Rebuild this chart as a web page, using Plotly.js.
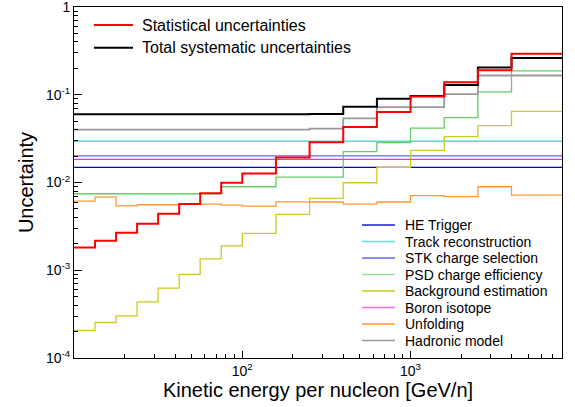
<!DOCTYPE html>
<html>
<head>
<meta charset="utf-8">
<script src="https://cdn.plot.ly/plotly-3.0.1.min.js"></script>
<style>
  html, body { margin: 0; padding: 0; background: #ffffff; }
  #chart { width: 575px; height: 407px; }
</style>
</head>
<body>
<div id="chart"></div>
<script>
// Bin edges in kinetic energy per nucleon [GeV/n]
const binEdges = [10, 13.34, 17.78, 23.71, 31.62, 42.17, 56.23, 74.99, 100,
                  158.5, 251.2, 398.1, 631.0, 1000, 1585, 2512, 3981, 7943];

// Relative uncertainties per bin
const statUnc   = [1.82e-3, 2.17e-3, 2.67e-3, 3.39e-3, 4.41e-3, 5.68e-3, 7.53e-3, 9.95e-3,
                   1.27e-2, 1.93e-2, 2.88e-2, 4.30e-2, 6.38e-2, 9.54e-2, 0.139, 0.190, 0.293];
const totalSyst = [0.0600, 0.0600, 0.0600, 0.0600, 0.0600, 0.0600, 0.0600, 0.0600,
                   0.0600, 0.0600, 0.0605, 0.0733, 0.0900, 0.0970, 0.129, 0.205, 0.262];

const heTrigger   = [0.0149, 0.0149, 0.0149, 0.0149, 0.0149, 0.0149, 0.0149, 0.0149,
                     0.0149, 0.0149, 0.0149, 0.0149, 0.0149, 0.0149, 0.0149, 0.0149, 0.0149];
const trackReco   = [0.0295, 0.0295, 0.0295, 0.0295, 0.0295, 0.0295, 0.0295, 0.0295,
                     0.0295, 0.0295, 0.0295, 0.0295, 0.0295, 0.0295, 0.0295, 0.0295, 0.0295];
const stkCharge   = [0.0201, 0.0201, 0.0201, 0.0201, 0.0201, 0.0201, 0.0201, 0.0201,
                     0.0201, 0.0201, 0.0201, 0.0201, 0.0201, 0.0201, 0.0201, 0.0201, 0.0201];
const psdCharge   = [7.45e-3, 7.45e-3, 7.45e-3, 7.45e-3, 7.45e-3, 7.45e-3, 7.45e-3, 8.95e-3,
                     8.95e-3, 1.15e-2, 1.15e-2, 2.25e-2, 2.85e-2, 4.16e-2, 5.49e-2, 0.108, 0.187];
const background  = [2.07e-4, 2.54e-4, 3.02e-4, 4.36e-4, 6.25e-4, 8.96e-4, 1.35e-3, 1.90e-3,
                     2.63e-3, 4.33e-3, 6.60e-3, 9.95e-3, 1.49e-2, 2.33e-2, 3.33e-2, 4.45e-2, 6.47e-2];
const boronIso    = [0.0184, 0.0184, 0.0184, 0.0184, 0.0184, 0.0184, 0.0184, 0.0184,
                     0.0184, 0.0184, 0.0184, 0.0184, 0.0184, 0.0184, 0.0184, 0.0184, 0.0184];
const unfolding   = [6.15e-3, 6.83e-3, 5.43e-3, 5.58e-3, 5.58e-3, 5.68e-3, 5.68e-3, 5.54e-3,
                     5.39e-3, 6.02e-3, 6.00e-3, 5.68e-3, 6.00e-3, 7.11e-3, 6.92e-3, 8.95e-3, 7.20e-3];
const hadronic    = [0.0400, 0.0400, 0.0400, 0.0400, 0.0400, 0.0400, 0.0400, 0.0400,
                     0.0400, 0.0400, 0.0411, 0.0538, 0.0722, 0.0722, 0.102, 0.166, 0.166];

const mainNames = ['Statistical uncertainties', 'Total systematic uncertainties'];
const componentNames = ['HE Trigger', 'Track reconstruction', 'STK charge selection',
                        'PSD charge efficiency', 'Background estimation', 'Boron isotope',
                        'Unfolding', 'Hadronic model'];

// Axis tick labels
const xTickVals = [100, 1000];
const xTickText = ['10<sup>2</sup>', '10<sup>3</sup>'];
const yTickVals = [1e-4, 1e-3, 1e-2, 1e-1, 1];
const yTickText = ['10<sup>-4</sup>', '10<sup>-3</sup>', '10<sup>-2</sup>', '10<sup>-1</sup>', '1'];

// ---- styling ----
const W = 575, H = 407;
const M = { l: 74, r: 13, t: 7, b: 49 };
const FONT = 'Liberation Sans, Arial, Helvetica, sans-serif';

const componentData = [heTrigger, trackReco, stkCharge, psdCharge, background, boronIso, unfolding, hadronic];
const componentColors = ['#0000dd', '#5fd3d3', '#6464ee', '#66cc66', '#cccc22', '#ee33ee', '#ff9933', '#999999'];
const componentLegendColors = ['#1a1add', '#66dddd', '#6666ee', '#99dd99', '#cccc22', '#ff66ff', '#ff9933', '#999999'];
const componentWidths = [1.3, 1.5, 1.3, 1.3, 1.3, 1.3, 1.3, 1.8];

// Step histogram: repeat the last bin value so the final bin gets its horizontal segment
function stepY(vals) { return vals.concat([vals[vals.length - 1]]); }

const traces = [];
componentData.forEach((vals, i) => {
  traces.push({
    type: 'scatter', mode: 'lines', name: componentNames[i],
    x: binEdges, y: stepY(vals),
    line: { shape: 'hv', color: componentColors[i], width: componentWidths[i] },
    showlegend: false, hoverinfo: 'skip'
  });
});
traces.push({
  type: 'scatter', mode: 'lines', name: mainNames[1],
  x: binEdges, y: stepY(totalSyst),
  line: { shape: 'hv', color: '#000000', width: 2 },
  showlegend: false, hoverinfo: 'skip'
});
traces.push({
  type: 'scatter', mode: 'lines', name: mainNames[0],
  x: binEdges, y: stepY(statUnc),
  line: { shape: 'hv', color: '#ff0000', width: 2 },
  showlegend: false, hoverinfo: 'skip'
});

// minor log ticks (2..9 in each decade)
function minorTicks(lo, hi) {
  const out = [];
  for (let e = lo; e < hi; e++) for (let m = 2; m <= 9; m++) out.push(m * Math.pow(10, e));
  return out;
}

// pixel -> paper coordinate helpers for the hand-placed legend blocks
const pw = W - M.l - M.r, ph = H - M.t - M.b;
const px = x => (x - M.l) / pw;
const py = y => (H - M.b - y) / ph;

const shapes = [], annotations = [];
function legendRow(x0, x1, xt, y, color, width, text, size) {
  shapes.push({ type: 'line', xref: 'paper', yref: 'paper',
                x0: px(x0), x1: px(x1), y0: py(y), y1: py(y),
                line: { color: color, width: width } });
  annotations.push({ xref: 'paper', yref: 'paper', x: px(xt), y: py(y),
                     xanchor: 'left', yanchor: 'middle', showarrow: false, text: text,
                     font: { family: FONT, size: size, color: '#000' } });
}
legendRow(94, 133, 140, 25, '#ff0000', 2, mainNames[0], 16);
legendRow(94, 133, 140, 47.7, '#000000', 2, mainNames[1], 16);
componentNames.forEach((n, i) => {
  legendRow(362, 395, 402.5, 225 + i * 16.5, componentLegendColors[i], 1.6, n, 14);
});

const layout = {
  width: W, height: H,
  margin: M,
  paper_bgcolor: '#ffffff', plot_bgcolor: '#ffffff',
  showlegend: false,
  font: { family: FONT, color: '#000' },
  xaxis: {
    type: 'log', range: [1, Math.log10(7943)],
    tickmode: 'array', tickvals: xTickVals, ticktext: xTickText,
    ticks: 'inside', ticklen: 7, tickwidth: 1, tickcolor: '#000',
    minor: { tickmode: 'array', tickvals: minorTicks(1, 4), ticks: 'inside', ticklen: 4, tickcolor: '#000', showgrid: false },
    showline: true, linecolor: '#000', linewidth: 1, mirror: true,
    showgrid: false, zeroline: false,
    tickfont: { family: FONT, size: 14, color: '#000' },
    title: { text: 'Kinetic energy per nucleon [GeV/n]', font: { family: FONT, size: 20, color: '#000' }, standoff: 4 },
    automargin: false
  },
  yaxis: {
    type: 'log', range: [-4, 0.0008],
    tickmode: 'array', tickvals: yTickVals, ticktext: yTickText,
    ticks: 'inside', ticklen: 8, tickwidth: 1, tickcolor: '#000',
    ticklabeloverflow: 'allow',
    minor: { tickmode: 'array', tickvals: minorTicks(-4, 0), ticks: 'inside', ticklen: 4, tickcolor: '#000', showgrid: false },
    showline: true, linecolor: '#000', linewidth: 1, mirror: true,
    showgrid: false, zeroline: false,
    tickfont: { family: FONT, size: 14, color: '#000' },
    title: { text: 'Uncertainty', font: { family: FONT, size: 20, color: '#000' }, standoff: 6 },
    automargin: false
  },
  shapes: shapes,
  annotations: annotations
};

Plotly.newPlot('chart', traces, layout, { displayModeBar: false });
</script>
</body>
</html>
